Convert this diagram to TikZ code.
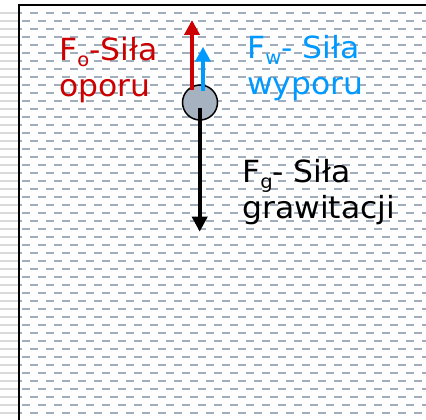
\documentclass[tikz,border=0pt]{standalone}
\usepackage{fontspec}
\setmainfont{DejaVu Sans}[FakeStretch=1.03]
\usetikzlibrary{arrows.meta}
\definecolor{dashgray}{RGB}{163,174,188}
\definecolor{leftgray}{RGB}{218,218,218}
\definecolor{forcered}{RGB}{204,0,0}
\definecolor{forceblue}{RGB}{0,153,255}
\definecolor{ballfill}{RGB}{166,178,192}
\tikzset{
  waterdash/.style={dashgray, line width=2pt, dash pattern=on 8pt off 8pt},
  sideline/.style={leftgray, line width=2pt},
  frameline/.style={black, line width=2pt},
  ball/.style={circle, draw=black, line width=1.5pt, fill=ballfill, minimum size=35pt, inner sep=0pt},
  force/.style={line width=4pt, -{Triangle[length=15pt,width=15pt]}},
  lbl/.style={font=\fontsize{30.5}{36}\selectfont, inner sep=0pt, anchor=base west, align=left},
}
\newcommand{\subsc}[1]{\raisebox{-6pt}{\fontsize{19}{19}\selectfont #1}}
\begin{document}
\begin{tikzpicture}[x=1pt,y=-1pt]
\useasboundingbox (0,0) rectangle (426,420);
\fill[white] (0,0) rectangle (426,420);
% water lines
\foreach \k in {0,2,...,50}{
  \draw[waterdash, dash phase=6pt] (20,12.7+8*\k) -- (426,12.7+8*\k);
}
\foreach \k in {1,3,...,49}{
  \draw[waterdash] (22,12.7+8*\k) -- (426,12.7+8*\k);
}
\foreach \k in {0,...,50}{
  \draw[sideline] (0,12.7+8*\k) -- (18,12.7+8*\k);
}
% frame
\coordinate (fb) at (19,420);
\coordinate (fc) at (19,5);
\coordinate (fr) at (426,5);
\draw[frameline] (fb) -- (fc) -- (fr);
% ball
\node[ball] (b) at (200,102.5) {};
% forces
\coordinate (rs) at (192,90);
\coordinate (rt) at (192,20);
\coordinate (bs) at (203,91.5);
\coordinate (bt) at (203,46.7);
\coordinate (gs) at (199.7,108.3);
\coordinate (gt) at (199.7,231.7);
\draw[force, forcered] (rs) -- (rt);
\draw[force, forceblue] (bs) -- (bt);
\draw[force, black] (gs) -- (gt);
% labels (anchor = baseline of last line)
\node[lbl, text=forcered] (lo) at (59,96.7) {F\subsc{o}-Siła\\oporu};
\node[lbl, text=forceblue] (lw) at (247,94.5) {F\subsc{w}- Siła\\wyporu};
\node[lbl, text=black] (lg) at (242,218.3) {F\subsc{g}- Siła\\grawitacji};
\end{tikzpicture}
\end{document}
